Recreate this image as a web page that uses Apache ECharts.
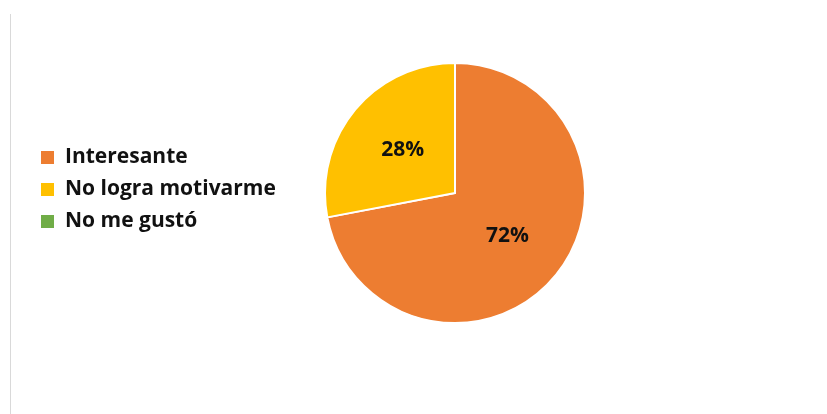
<!DOCTYPE html>
<html>
<head>
<meta charset="utf-8">
<script src="https://cdn.jsdelivr.net/npm/echarts@6/dist/echarts.min.js"></script>
<style>
html,body{margin:0;padding:0;background:#fff;}
#main{width:827px;height:414px;}
</style>
</head>
<body>
<div id="main"></div>
<script>
const categories = ['Interesante', 'No logra motivarme', 'No me gustó'];
const values = [72, 28, 0];
const colors = ['#ED7D31', '#FFC000', '#70AD47'];

const chart = echarts.init(document.getElementById('main'), null, {renderer: 'canvas'});
chart.setOption({
  animation: false,
  backgroundColor: '#ffffff',
  color: colors,
  graphic: [{
    type: 'line',
    shape: {x1: 10.5, y1: 14, x2: 10.5, y2: 414},
    style: {stroke: '#d9d9d9', lineWidth: 1}
  }],
  legend: {
    orient: 'vertical',
    left: 36,
    top: 142,
    padding: 5,
    itemWidth: 13,
    itemHeight: 13,
    itemGap: 11,
    icon: 'rect',
    itemStyle: {borderWidth: 0, borderColor: 'transparent'},
    data: categories,
    formatter: function (n) { return '{t|' + n + '}'; },
    textStyle: {
      rich: {
        t: {
          fontFamily: 'Open Sans',
          fontWeight: 'bold',
          fontSize: 21,
          color: '#111',
          lineHeight: 21,
          height: 21,
          padding: [0, 0, 0, 6]
        }
      }
    }
  },
  series: [{
    type: 'pie',
    center: [455, 193],
    radius: [0, 130],
    startAngle: 90,
    clockwise: true,
    itemStyle: {borderColor: '#ffffff', borderWidth: 2},
    label: {
      position: 'inside',
      formatter: function (p) { return p.value > 0 ? p.value + '%' : ''; },
      fontFamily: 'Open Sans',
      fontWeight: 'bold',
      fontSize: 21,
      color: '#111'
    },
    labelLine: {show: false},
    emphasis: {disabled: true},
    data: categories.map((c, i) => ({name: c, value: values[i]}))
  }]
});
</script>
</body>
</html>
